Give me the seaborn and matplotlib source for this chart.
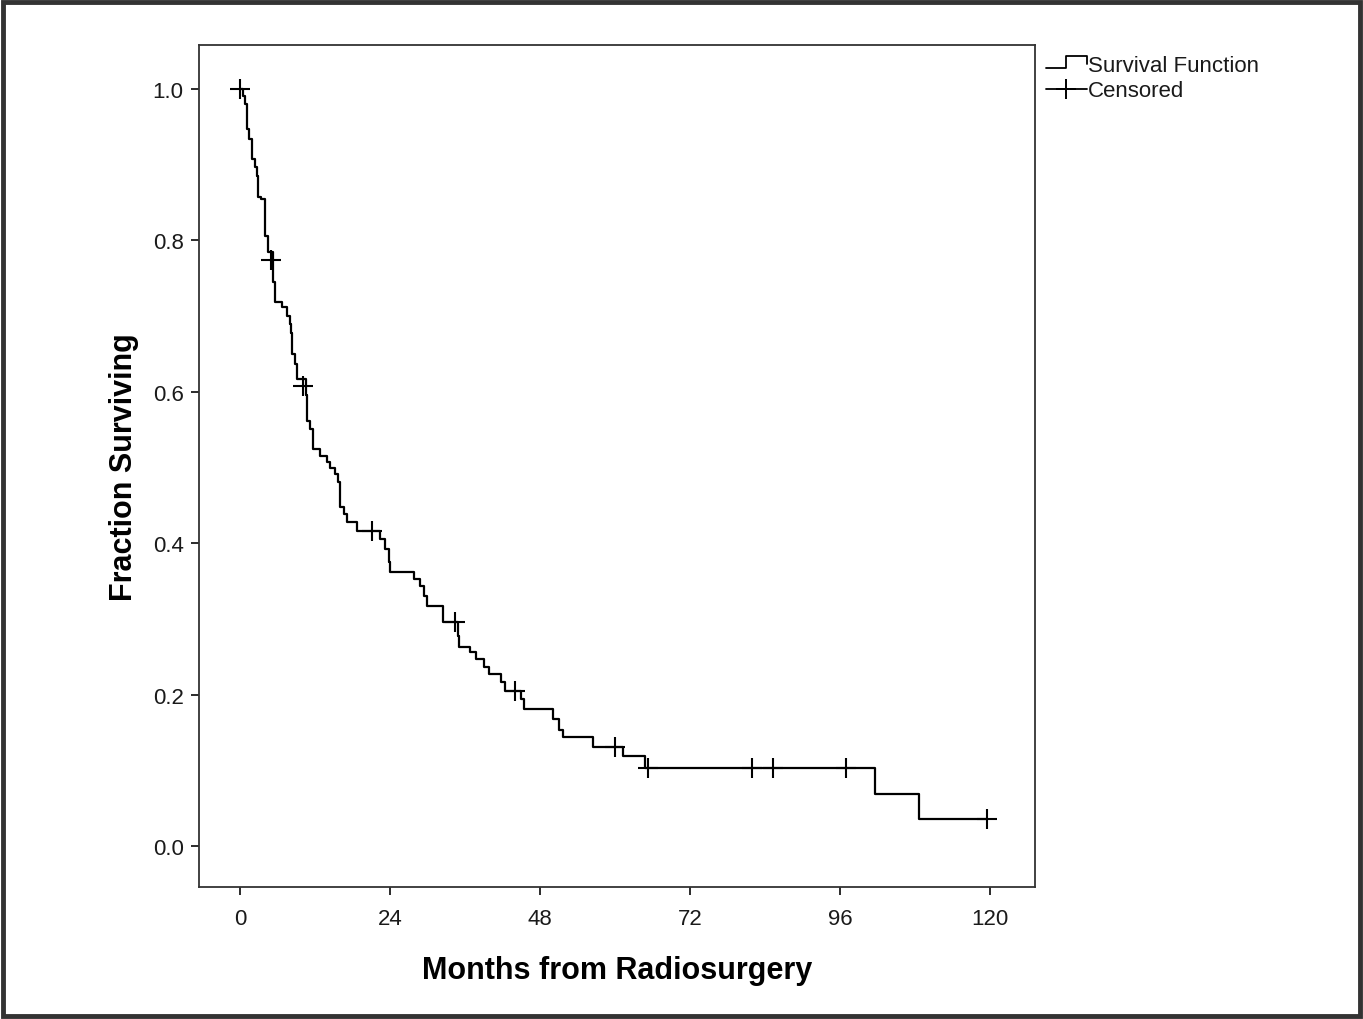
import numpy as np
import pandas as pd
import matplotlib
matplotlib.use("Agg")
import matplotlib.pyplot as plt
from matplotlib.lines import Line2D
from matplotlib.legend_handler import HandlerBase
from matplotlib.patches import Rectangle
import seaborn as sns

# --- données (mois, survie) ---
temps = [0, 0.5, 0.8, 1.1, 1.5, 1.9, 2.4, 2.7, 2.9, 3.4, 4.0, 4.5,
         5.3, 5.6, 6.7, 7.5, 8.0, 8.2, 8.3, 8.8, 9.1,
         10.5, 10.7, 11.2, 11.7, 12.8, 13.9, 14.4, 15.2, 15.7, 16.0, 16.6, 17.1, 18.7,
         22.4, 23.2, 23.8, 24.0,
         27.9, 28.8, 29.5, 29.9, 32.5,
         34.8, 35.1, 36.8, 37.7, 39.0, 39.8, 41.7, 42.4,
         45.0, 45.5, 50.0, 51.0, 51.6, 56.5,
         61.3, 64.8, 101.6, 108.7, 119.5]
survie = [1.0, 0.991, 0.980, 0.947, 0.934, 0.908, 0.897, 0.885, 0.857, 0.855, 0.806, 0.785,
          0.745, 0.719, 0.712, 0.700, 0.690, 0.677, 0.650, 0.637, 0.617,
          0.596, 0.561, 0.551, 0.524, 0.515, 0.507, 0.500, 0.491, 0.481, 0.448, 0.438, 0.428, 0.416,
          0.406, 0.392, 0.375, 0.362,
          0.353, 0.343, 0.330, 0.317, 0.296,
          0.277, 0.263, 0.256, 0.247, 0.236, 0.227, 0.217, 0.205,
          0.194, 0.181, 0.168, 0.154, 0.144, 0.131,
          0.119, 0.103, 0.0687, 0.0357, 0.0357]

# patients censurés
cens_temps = [0, 5.0, 10.0, 21.1, 34.4, 44.0, 60.0, 65.3, 81.9, 85.2, 96.9, 119.5]
cens_survie = [1.0, 0.774, 0.607, 0.416, 0.296, 0.205, 0.131, 0.103, 0.103, 0.103, 0.103, 0.0357]

x_ticks = [0, 24, 48, 72, 96, 120]
y_ticks = [0.0, 0.2, 0.4, 0.6, 0.8, 1.0]

df = pd.DataFrame({"mois": temps, "survie": survie})
df_cens = pd.DataFrame({"mois": cens_temps, "survie": cens_survie})

sns.set_style("white")
plt.rcParams["font.family"] = ["Liberation Sans", "DejaVu Sans"]


class HandlerEscalier(HandlerBase):
    # petite icône en marche d'escalier pour la légende
    def create_artists(self, legend, orig_handle, xdescent, ydescent,
                       width, height, fontsize, trans):
        x0 = -xdescent
        y0 = -ydescent
        xs = [x0, x0 + 0.5 * width, x0 + 0.5 * width, x0 + width, x0 + width]
        ys = [y0 + 0.2 * height, y0 + 0.2 * height, y0 + 0.95 * height,
              y0 + 0.95 * height, y0 + 0.45 * height]
        ligne = Line2D(xs, ys, color="black", lw=1.3, transform=trans)
        return [ligne]


fig = plt.figure(figsize=(13.63, 10.20), dpi=100)
ax = fig.add_axes([199 / 1363, 132 / 1020, 836 / 1363, 842 / 1020])

sns.lineplot(data=df, x="mois", y="survie", drawstyle="steps-post",
             estimator=None, color="black", linewidth=1.6, ax=ax)
sns.scatterplot(data=df_cens, x="mois", y="survie", marker="+", s=190,
                color="black", linewidth=1.5, ax=ax, zorder=3)

ax.set_xlim(-6.56, 127.2)
ax.set_ylim(-0.054, 1.058)
ax.set_xticks(x_ticks)
ax.set_yticks(y_ticks)
ax.set_yticklabels([f"{v:.1f}" for v in y_ticks])
ax.tick_params(axis="both", direction="out", length=6, width=1.3,
               labelsize=16, colors="#1a1a1a", pad=5,
               bottom=True, left=True)
ax.tick_params(axis="x", pad=9)
for s in ax.spines.values():
    s.set_color("#333333")
    s.set_linewidth(1.3)

ax.set_xlabel("Months from Radiosurgery", fontsize=22, fontweight="bold",
              labelpad=19, color="black")
ax.set_ylabel("Fraction Surviving", fontsize=22, fontweight="bold",
              labelpad=10, color="black")

h_surv = Line2D([], [], color="black")
h_cens = Line2D([], [], color="black", lw=1.3, marker="+", markersize=15, markeredgewidth=1.4)
fig.legend([h_surv, h_cens], ["Survival Function", "Censored"],
           handler_map={h_surv: HandlerEscalier()},
           loc="upper left", bbox_to_anchor=(1037 / 1363, 1 - 47 / 1020),
           frameon=False, fontsize=16, handlelength=1.85, handletextpad=0.05,
           labelspacing=0.2, borderaxespad=0, labelcolor="#1a1a1a")

# cadre extérieur de l'image
fig.patches.append(Rectangle((0.002, 0.003), 0.996, 0.994, transform=fig.transFigure,
                             fill=False, edgecolor="#333333", linewidth=3.5))

plt.savefig("out.png", dpi=100)
